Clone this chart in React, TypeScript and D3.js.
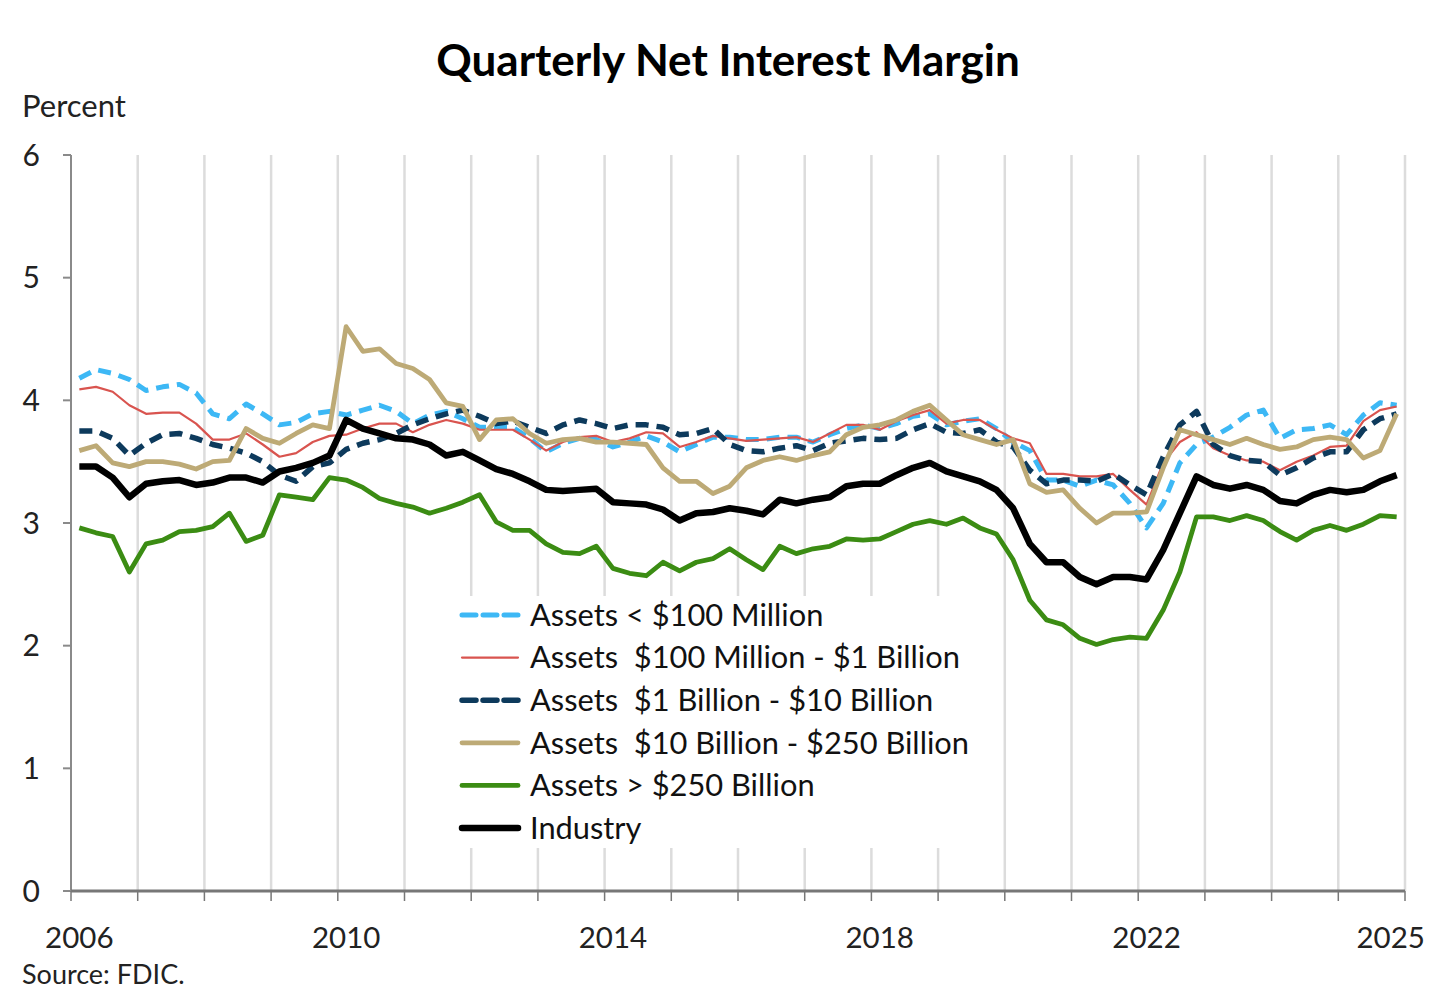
import React from "react";
import * as d3 from "d3";

// quarterly NIM, 2006Q1 .. 2025Q4
const firstYear = 2006;
const quarters: string[] = d3.range(80).map((i) => `${firstYear + Math.floor(i / 4)}Q${(i % 4) + 1}`);

const assetsUnder100M = [
    4.18, 4.25, 4.22, 4.17, 4.08, 4.11, 4.13, 4.06, 3.89, 3.85, 3.97, 3.89, 3.80, 3.82, 3.89, 3.91, 3.88, 3.92, 3.96, 3.91,
    3.81, 3.88, 3.91, 3.85, 3.78, 3.78, 3.78, 3.69, 3.58, 3.65, 3.69, 3.68, 3.62, 3.66, 3.71, 3.66, 3.58, 3.64, 3.70, 3.70,
    3.68, 3.68, 3.70, 3.70, 3.66, 3.72, 3.77, 3.80, 3.77, 3.81, 3.87, 3.89, 3.80, 3.83, 3.85, 3.77, 3.66, 3.59, 3.35, 3.35,
    3.30, 3.35, 3.31, 3.16, 2.96, 3.16, 3.49, 3.64, 3.70, 3.78, 3.88, 3.92, 3.69, 3.76, 3.77, 3.80, 3.72, 3.88, 3.98, 3.96,
];
const assets100Mto1B = [
    4.09, 4.11, 4.07, 3.96, 3.89, 3.90, 3.90, 3.81, 3.68, 3.68, 3.73, 3.64, 3.54, 3.57, 3.66, 3.71, 3.72, 3.77, 3.81, 3.81,
    3.74, 3.80, 3.84, 3.81, 3.76, 3.76, 3.76, 3.68, 3.59, 3.66, 3.70, 3.71, 3.66, 3.69, 3.74, 3.73, 3.62, 3.66, 3.71, 3.69,
    3.67, 3.68, 3.69, 3.70, 3.66, 3.73, 3.80, 3.80, 3.76, 3.83, 3.88, 3.92, 3.81, 3.84, 3.84, 3.76, 3.69, 3.65, 3.40, 3.40,
    3.38, 3.38, 3.40, 3.27, 3.15, 3.49, 3.66, 3.74, 3.61, 3.55, 3.51, 3.50, 3.43, 3.50, 3.55, 3.62, 3.63, 3.83, 3.92, 3.95,
];
const assets1Bto10B = [
    3.75, 3.75, 3.69, 3.55, 3.65, 3.72, 3.73, 3.69, 3.64, 3.61, 3.57, 3.50, 3.39, 3.34, 3.46, 3.49, 3.60, 3.65, 3.68, 3.73,
    3.80, 3.85, 3.89, 3.92, 3.87, 3.81, 3.83, 3.78, 3.73, 3.80, 3.84, 3.81, 3.77, 3.80, 3.80, 3.78, 3.72, 3.73, 3.77, 3.64,
    3.59, 3.58, 3.61, 3.63, 3.59, 3.65, 3.67, 3.69, 3.68, 3.69, 3.76, 3.81, 3.74, 3.73, 3.76, 3.66, 3.62, 3.43, 3.32, 3.35,
    3.35, 3.34, 3.40, 3.31, 3.23, 3.54, 3.80, 3.91, 3.64, 3.55, 3.51, 3.50, 3.39, 3.45, 3.53, 3.58, 3.58, 3.76, 3.85, 3.89,
];
const assets10Bto250B = [
    3.59, 3.63, 3.49, 3.46, 3.50, 3.50, 3.48, 3.44, 3.50, 3.51, 3.77, 3.69, 3.65, 3.73, 3.80, 3.77, 4.60, 4.40, 4.42, 4.30,
    4.26, 4.17, 3.98, 3.95, 3.68, 3.84, 3.85, 3.73, 3.65, 3.68, 3.69, 3.66, 3.66, 3.65, 3.64, 3.45, 3.34, 3.34, 3.24, 3.30,
    3.45, 3.51, 3.54, 3.51, 3.55, 3.58, 3.72, 3.78, 3.80, 3.84, 3.91, 3.96, 3.84, 3.72, 3.68, 3.64, 3.68, 3.32, 3.25, 3.27,
    3.12, 3.00, 3.08, 3.08, 3.09, 3.45, 3.76, 3.72, 3.68, 3.64, 3.69, 3.64, 3.60, 3.62, 3.68, 3.70, 3.68, 3.53, 3.59, 3.89,
];
const assetsOver250B = [
    2.96, 2.92, 2.89, 2.60, 2.83, 2.86, 2.93, 2.94, 2.97, 3.08, 2.85, 2.90, 3.23, 3.21, 3.19, 3.37, 3.35, 3.29, 3.20, 3.16,
    3.13, 3.08, 3.12, 3.17, 3.23, 3.01, 2.94, 2.94, 2.83, 2.76, 2.75, 2.81, 2.63, 2.59, 2.57, 2.68, 2.61, 2.68, 2.71, 2.79,
    2.70, 2.62, 2.81, 2.75, 2.79, 2.81, 2.87, 2.86, 2.87, 2.93, 2.99, 3.02, 2.99, 3.04, 2.96, 2.91, 2.70, 2.37, 2.21, 2.17,
    2.06, 2.01, 2.05, 2.07, 2.06, 2.29, 2.60, 3.05, 3.05, 3.02, 3.06, 3.02, 2.93, 2.86, 2.94, 2.98, 2.94, 2.99, 3.06, 3.05,
];
const industry = [
    3.46, 3.46, 3.37, 3.21, 3.32, 3.34, 3.35, 3.31, 3.33, 3.37, 3.37, 3.33, 3.42, 3.45, 3.49, 3.55, 3.84, 3.77, 3.73, 3.69,
    3.68, 3.64, 3.55, 3.58, 3.51, 3.44, 3.40, 3.34, 3.27, 3.26, 3.27, 3.28, 3.17, 3.16, 3.15, 3.11, 3.02, 3.08, 3.09, 3.12,
    3.10, 3.07, 3.19, 3.16, 3.19, 3.21, 3.30, 3.32, 3.32, 3.39, 3.45, 3.49, 3.42, 3.38, 3.34, 3.27, 3.12, 2.83, 2.68, 2.68,
    2.56, 2.50, 2.56, 2.56, 2.54, 2.78, 3.08, 3.38, 3.31, 3.28, 3.31, 3.27, 3.18, 3.16, 3.23, 3.27, 3.25, 3.27, 3.34, 3.39,
];

const seriesNames = [
    "Assets < $100 Million",
    "Assets  $100 Million - $1 Billion",
    "Assets  $1 Billion - $10 Billion",
    "Assets  $10 Billion - $250 Billion",
    "Assets > $250 Billion",
    "Industry",
];
const seriesValues = [assetsUnder100M, assets100Mto1B, assets1Bto10B, assets10Bto250B, assetsOver250B, industry];
const seriesColors = ["#3db8f5", "#d9544f", "#0d3a5c", "#bdaa76", "#3b8c13", "#000000"];
const seriesWidths = [5, 2.2, 5.5, 4.8, 4.8, 6.5];
const seriesDash = ["13,8", null, "13,8", null, null, null];

const yTicks = [0, 1, 2, 3, 4, 5, 6];
// labels sit under the first quarter of each labelled year; the last one under the final quarter
const xTickLabels = ["2006", "2010", "2014", "2018", "2022", "2025"];
const xTickQuarters = ["2006Q1", "2010Q1", "2014Q1", "2018Q1", "2022Q1", "2025Q4"];

const W = 1444;
const H = 1008;
const FONT = "Lato, 'Noto Sans', sans-serif";

export default function App() {
    const x = d3.scaleBand<string>().domain(quarters).range([71, 1405]).padding(0);
    const y = d3.scaleLinear().domain([0, 6]).range([891, 155]);
    const cx = (q: string) => (x(q) as number) + x.bandwidth() / 2;

    // year boundaries: start of every Q1, plus the right edge
    const yearTicks = quarters.filter((q) => q.endsWith("Q1")).map((q) => x(q) as number).concat([x.range()[1]]);

    const line = d3
        .line<number>()
        .x((_, i) => cx(quarters[i]))
        .y((d) => y(d));

    const legendTop = 615;
    const legendStep = 42.6;

    return (
        <svg width={W} height={H} style={{ position: "absolute", left: 0, top: 0, background: "#fff" }} fontFamily={FONT}>
            <text x={728} y={76} textAnchor="middle" fontSize={44} fontWeight={700} fill="#000">
                Quarterly Net Interest Margin
            </text>
            <text x={22} y={117} fontSize={31} fill="#222">Percent</text>

            {/* vertical year gridlines */}
            {yearTicks.slice(1).map((gx, i) => (
                <line key={"g" + i} x1={gx} x2={gx} y1={y(6)} y2={y(0)} stroke="#dcdcdc" strokeWidth={2.5} />
            ))}

            {/* y axis */}
            <line x1={71} x2={71} y1={y(6)} y2={y(0)} stroke="#8a8a8a" strokeWidth={2} />
            {yTicks.map((t) => (
                <g key={"y" + t}>
                    <line x1={63} x2={71} y1={y(t)} y2={y(t)} stroke="#8a8a8a" strokeWidth={2} />
                    <text x={40} y={y(t)} dy="0.35em" textAnchor="end" fontSize={30} fill="#222">{t}</text>
                </g>
            ))}

            {/* series */}
            {seriesValues.map((vals, i) => (
                <path
                    key={"s" + i}
                    d={line(vals) || ""}
                    fill="none"
                    stroke={seriesColors[i]}
                    strokeWidth={seriesWidths[i]}
                    strokeDasharray={seriesDash[i] || undefined}
                    strokeLinejoin="round"
                />
            ))}

            {/* legend */}
            <rect x={450} y={596} width={535} height={252} fill="#fff" />
            {seriesNames.map((name, i) => {
                const ly = legendTop + i * legendStep;
                return (
                    <g key={"l" + i}>
                        <line
                            x1={462}
                            x2={518}
                            y1={ly}
                            y2={ly}
                            stroke={seriesColors[i]}
                            strokeWidth={seriesWidths[i]}
                            strokeDasharray={seriesDash[i] ? "14,7" : undefined}
                            strokeLinecap="round"
                        />
                        <text x={530} y={ly} dy="0.35em" fontSize={30.8} fill="#111" style={{ whiteSpace: "pre" }}>
                            {name}
                        </text>
                    </g>
                );
            })}

            {/* x axis */}
            <line x1={71} x2={1405} y1={y(0)} y2={y(0)} stroke="#777" strokeWidth={3} />
            {yearTicks.map((tx, i) => (
                <line key={"t" + i} x1={tx} x2={tx} y1={y(0)} y2={y(0) + 10} stroke="#777" strokeWidth={1.5} />
            ))}
            {xTickLabels.map((label, i) => {
                const last = i === xTickLabels.length - 1;
                return (
                    <text key={"xl" + i} x={cx(xTickQuarters[i]) - (last ? 6 : 0)} y={948} textAnchor="middle" fontSize={29.5} fill="#222">
                        {label}
                    </text>
                );
            })}

            <text x={22} y={984} fontSize={27} fill="#222">Source: FDIC.</text>
        </svg>
    );
}
